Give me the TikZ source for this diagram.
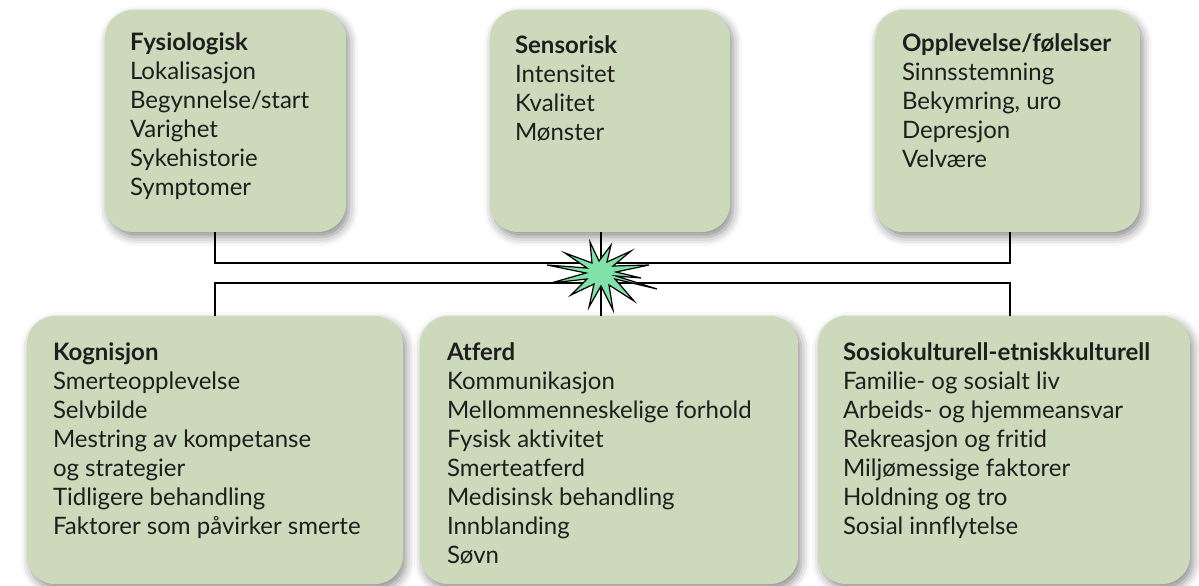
\documentclass[tikz,border=0pt]{standalone}
\usepackage{fontspec}
\setmainfont{Lato}[Ligatures = NoCommon]
\usetikzlibrary{positioning, shadows.blur}

\definecolor{boxgreen}{HTML}{CCDABB}
\definecolor{burstgreen}{HTML}{80E2A8}
\definecolor{textgray}{HTML}{1E1E1E}

\tikzset{
  kategori/.style = {fill = boxgreen, rounded corners = 28pt, inner sep = 0pt,
    blur shadow = {shadow xshift = 3pt, shadow yshift = -5pt,
      shadow blur radius = 9pt, shadow opacity = 45}},
  punkter/.style = {align = left, inner sep = 0pt, text = textgray,
    font = \fontsize{24}{29}\selectfont},
  linje/.style = {line width = 2pt, black}
}

\begin{document}
\begin{tikzpicture}[x = 1pt, y = -1pt]

    \useasboundingbox (0, 0) rectangle (1199, 586);

      %boxes, top row
      \node[kategori, minimum width = 241pt, minimum height = 222pt] (fys) at (225.5, 121) {};
      \node[kategori, minimum width = 240pt, minimum height = 222pt] (sen) at (610, 121) {};
      \node[kategori, minimum width = 265pt, minimum height = 222pt] (opp) at (1007.5, 121) {};

      %boxes, bottom row
      \node[kategori, minimum width = 376pt, minimum height = 268pt] (kog) at (215, 450) {};
      \node[kategori, minimum width = 378pt, minimum height = 268pt] (atf) at (609, 450) {};
      \node[kategori, minimum width = 372pt, minimum height = 268pt] (sos) at (1004, 450) {};

      %texts in boxes
      \node[punkter, below right = 23pt and 25pt of fys.north west] (fystxt)
        {\textbf{Fysiologisk}\\ Lokalisasjon\\ Begynnelse/start\\ Varighet\\ Sykehistorie\\ Symptomer};
      \node[punkter, below right = 26pt and 25pt of sen.north west] (sentxt)
        {\textbf{Sensorisk}\\ Intensitet\\ Kvalitet\\ Mønster};
      \node[punkter, below right = 24pt and 27pt of opp.north west] (opptxt)
        {\textbf{Opplevelse/følelser}\\ Sinnsstemning\\ Bekymring, uro\\ Depresjon\\ Velvære};
      \node[punkter, below right = 27pt and 26pt of kog.north west] (kogtxt)
        {\textbf{Kognisjon}\\ Smerteopplevelse\\ Selvbilde\\ Mestring av kompetanse\\ og strategier\\ Tidligere behandling\\ Faktorer som påvirker smerte};
      \node[punkter, below right = 27pt and 27pt of atf.north west] (atftxt)
        {\textbf{Atferd}\\ Kommunikasjon\\ Mellommenneskelige forhold\\ Fysisk aktivitet\\ Smerteatferd\\ Medisinsk behandling\\ Innblanding\\ Søvn};
      \node[punkter, below right = 27pt and 25pt of sos.north west] (sostxt)
        {\textbf{Sosiokulturell-etniskkulturell}\\ Familie- og sosialt liv\\ Arbeids- og hjemmeansvar\\ Rekreasjon og fritid\\ Miljømessige faktorer\\ Holdning og tro\\ Sosial innflytelse};

      %bus lines
      \coordinate (hub) at (601, 273);
      \coordinate (ovL) at (215, 263);
      \coordinate (ovR) at (1010, 263);
      \coordinate (unL) at (215, 283);
      \coordinate (unR) at (1010, 283);

      \draw[linje] (fys.south -| ovL) -- (ovL) -- (ovR) -- (opp.south -| ovR);
      \draw[linje] (kog.north -| unL) -- (unL) -- (unR) -- (sos.north -| unR);
      \draw[linje] (sen.south -| hub) -- (atf.north -| hub);

      %starburst in the middle
      \begin{scope}[shift = {(hub)}]
        \filldraw[fill = burstgreen, draw = black, line width = 1.2pt, line join = miter]
          (56, 16) -- (14, 6) -- (33, 28) -- (8, 12) -- (12, 37) -- (0, 13)
          -- (-12, 34) -- (-7, 11) -- (-30, 22) -- (-14, 6) -- (-50, 10) -- (-15, 0)
          -- (-54, -8) -- (-14, -5) -- (-36, -20) -- (-9, -10) -- (-11, -31) -- (-2, -12)
          -- (10, -28) -- (6, -11) -- (30, -22) -- (12, -7) -- (48, -8) -- (15, -1)
          -- (40, 5) -- (15, 3) -- cycle;
      \end{scope}

    \end{tikzpicture}
\end{document}
